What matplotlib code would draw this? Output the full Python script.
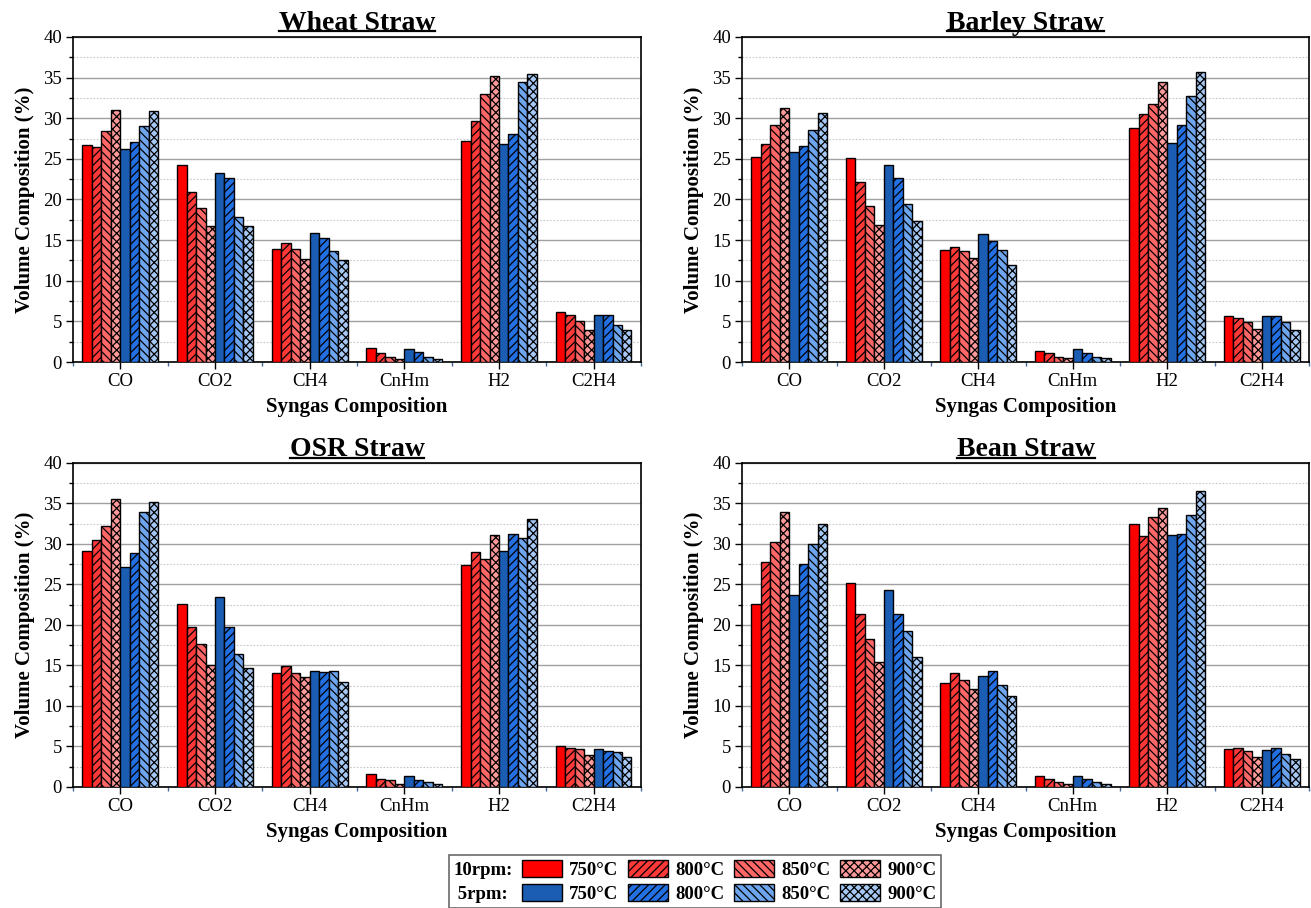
import matplotlib
matplotlib.use("Agg")
import matplotlib.pyplot as plt
import numpy as np
from matplotlib.patches import Patch
from matplotlib.ticker import MultipleLocator

plt.rcParams['font.family'] = ['Liberation Serif', 'DejaVu Serif']
plt.rcParams['hatch.linewidth'] = 0.9

categories = ['CO', 'CO2', 'CH4', 'CnHm', 'H2', 'C2H4']
temps = ['750°C', '800°C', '850°C', '900°C']

# values per category for each series, order: categories
wheat_10 = {
    '750°C': [26.7, 24.3, 13.9, 1.68, 27.2, 6.1],
    '800°C': [26.4, 20.9, 14.7, 1.07, 29.7, 5.8],
    '850°C': [28.4, 19.0, 13.9, 0.57, 33.0, 5.1],
    '900°C': [31.0, 16.7, 12.7, 0.33, 35.2, 4.0],
}
wheat_5 = {
    '750°C': [26.2, 23.3, 15.9, 1.56, 26.8, 5.8],
    '800°C': [27.1, 22.6, 15.2, 1.19, 28.1, 5.8],
    '850°C': [29.0, 17.9, 13.6, 0.57, 34.4, 4.6],
    '900°C': [30.9, 16.7, 12.5, 0.40, 35.5, 3.9],
}
barley_10 = {
    '750°C': [25.2, 25.1, 13.8, 1.40, 28.8, 5.66],
    '800°C': [26.8, 22.2, 14.2, 1.07, 30.5, 5.4],
    '850°C': [29.2, 19.2, 13.7, 0.66, 31.7, 4.9],
    '900°C': [31.3, 16.9, 12.8, 0.45, 34.4, 4.1],
}
barley_5 = {
    '750°C': [25.8, 24.2, 15.8, 1.56, 27.0, 5.66],
    '800°C': [26.6, 22.6, 14.9, 1.10, 29.2, 5.66],
    '850°C': [28.5, 19.5, 13.8, 0.57, 32.7, 4.9],
    '900°C': [30.6, 17.3, 12.0, 0.45, 35.7, 4.0],
}
osr_10 = {
    '750°C': [29.1, 22.6, 14.1, 1.60, 27.4, 5.06],
    '800°C': [30.5, 19.7, 14.9, 0.98, 29.0, 4.8],
    '850°C': [32.2, 17.6, 14.1, 0.82, 28.2, 4.65],
    '900°C': [35.5, 15.1, 13.6, 0.41, 31.1, 3.9],
}
osr_5 = {
    '750°C': [27.2, 23.5, 14.3, 1.30, 29.1, 4.7],
    '800°C': [28.9, 19.7, 14.2, 0.86, 31.2, 4.5],
    '850°C': [33.9, 16.4, 14.3, 0.57, 30.7, 4.27],
    '900°C': [35.2, 14.7, 12.9, 0.41, 33.1, 3.7],
}
bean_10 = {
    '750°C': [22.6, 25.2, 12.8, 1.30, 32.5, 4.7],
    '800°C': [27.8, 21.3, 14.1, 0.98, 31.0, 4.8],
    '850°C': [30.3, 18.3, 13.2, 0.60, 33.3, 4.44],
    '900°C': [33.9, 15.4, 12.1, 0.37, 34.5, 3.65],
}
bean_5 = {
    '750°C': [23.7, 24.3, 13.7, 1.35, 31.1, 4.56],
    '800°C': [27.5, 21.3, 14.3, 1.00, 31.2, 4.8],
    '850°C': [30.0, 19.2, 12.6, 0.60, 33.6, 4.1],
    '900°C': [32.5, 16.0, 11.2, 0.41, 36.5, 3.45],
}

panels = [
    ('Wheat Straw', wheat_10, wheat_5),
    ('Barley Straw', barley_10, barley_5),
    ('OSR Straw', osr_10, osr_5),
    ('Bean Straw', bean_10, bean_5),
]

red_colors = ['#ff0000', '#ff3838', '#ff6666', '#ff9a9a']
blue_colors = ['#1a5db2', '#2370e3', '#6da6ee', '#a6c8f4']
hatches = [None, '////', '\\\\\\\\', 'xxxx']

fig = plt.figure(figsize=(13.11, 9.08), dpi=100)
positions = [
    [0.0557, 0.6013, 0.4332, 0.3580],
    [0.5660, 0.6013, 0.4325, 0.3580],
    [0.0557, 0.1333, 0.4332, 0.3568],
    [0.5660, 0.1333, 0.4325, 0.3568],
]

x = np.arange(len(categories))
w = 0.1
for pos, (title, d10, d5) in zip(positions, panels):
    ax = fig.add_axes(pos)
    series = [(d10[t], red_colors[i], hatches[i]) for i, t in enumerate(temps)] + \
             [(d5[t], blue_colors[i], hatches[i]) for i, t in enumerate(temps)]
    for k, (vals, col, h) in enumerate(series):
        ax.bar(x + (k - 3.5) * w, vals, width=w, color=col, edgecolor='black',
               linewidth=1.0, hatch=h, zorder=3)
    ax.set_xlim(-0.5, 5.5)
    ax.set_ylim(0, 40)
    ax.yaxis.set_major_locator(MultipleLocator(5))
    ax.yaxis.set_minor_locator(MultipleLocator(2.5))
    ax.set_xticks(x)
    ax.set_xticklabels(categories)
    ax.set_xticks(np.arange(-0.5, 5.6, 1.0), minor=True)
    ax.grid(which='major', axis='y', color='#a0a0a0', linewidth=1.0, zorder=0)
    ax.grid(which='minor', axis='y', color='#c8c8c8', linewidth=0.8,
            linestyle=(0, (1.5, 1.5)), zorder=0)
    ax.set_axisbelow(True)
    ax.tick_params(axis='both', which='major', labelsize=13.5, direction='out',
                   length=5, width=1.0, colors='black', pad=3)
    ax.tick_params(axis='y', which='minor', direction='out', length=3, width=1.0)
    ax.tick_params(axis='x', which='minor', direction='out', length=3, width=1.0,
                   color='#4a6a9a')
    for s in ax.spines.values():
        s.set_linewidth(1.2)
        s.set_color('black')
    ax.set_ylabel('Volume Composition (%)', fontsize=15, fontweight='bold', labelpad=6)
    ax.set_xlabel('Syngas Composition', fontsize=15, fontweight='bold', labelpad=5)
    t = ax.set_title(title, fontsize=20, fontweight='bold', pad=5)
    # underline the title
    fig.canvas.draw()
    bb = t.get_window_extent(renderer=fig.canvas.get_renderer())
    inv = fig.transFigure.inverted()
    (x0, y0), (x1, y1) = inv.transform([[bb.x0, bb.y0], [bb.x1, bb.y1]])
    fig.add_artist(plt.Line2D([x0, x1], [y0 + 0.005, y0 + 0.005],
                              transform=fig.transFigure, color='black', linewidth=1.6))

# legend
blank = Patch(facecolor='none', edgecolor='none')
handles = [blank, blank]
labels = ['10rpm:', ' 5rpm:']
for i, t in enumerate(temps):
    handles.append(Patch(facecolor=red_colors[i], edgecolor='black', hatch=hatches[i]))
    labels.append(t)
    handles.append(Patch(facecolor=blue_colors[i], edgecolor='black', hatch=hatches[i]))
    labels.append(t)
leg = fig.legend(handles, labels, ncol=5, loc='upper center',
                 bbox_to_anchor=(0.530, 0.0584), borderaxespad=0.0,
                 frameon=True, fancybox=False,
                 edgecolor='#444444', prop={'weight': 'bold', 'size': 13.5},
                 handlelength=2.15, handleheight=1.05, handletextpad=0.38,
                 columnspacing=0.5, labelspacing=0.28, borderpad=0.25)
leg.get_frame().set_linewidth(1.2)
# remove the empty handle space in front of the row labels
try:
    col0 = leg._legend_handle_box.get_children()[0]
    for item in col0.get_children():
        item.get_children()[0].width = 0
    for item in col0.get_children():
        item.sep = 0
except Exception:
    pass

fig.savefig('out.png', dpi=100)
